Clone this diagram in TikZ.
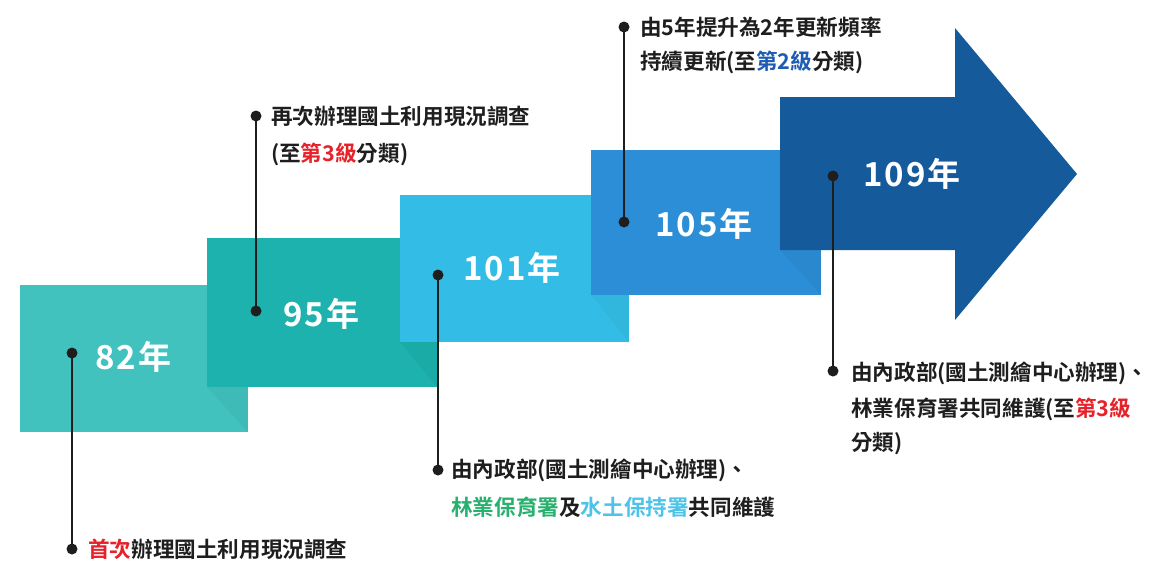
\documentclass[tikz,border=0pt]{standalone}
\usepackage{fontspec}
\setmainfont{Noto Sans CJK TC}[BoldFont=* Bold]
\definecolor{cA}{HTML}{41C2BE}
\definecolor{cB}{HTML}{1DB2AD}
\definecolor{cC}{HTML}{33BDE6}
\definecolor{cD}{HTML}{2C8ED6}
\definecolor{cE}{HTML}{155B9C}
\definecolor{tred}{HTML}{E62129}
\definecolor{tblue}{HTML}{1E5CB3}
\definecolor{tgreen}{HTML}{27B06E}
\definecolor{tsky}{HTML}{4DC3E8}
\definecolor{tink}{HTML}{1E1E1E}
\begin{document}
\begin{tikzpicture}[x=1pt,y=-1pt,
  yearlbl/.style={anchor=west,inner sep=0pt,text=white,font=\fontsize{33}{33}\selectfont\bfseries\addfontfeatures{LetterSpace=6}},
  callout/.style={anchor=west,inner sep=0pt,text=tink,font=\fontsize{21.6}{21.6}\selectfont\bfseries},
  dotc/.style={circle,fill=tink,inner sep=0pt,minimum size=11pt},
  lead/.style={draw=tink,line width=1.3pt},
  shade/.style={fill=black,opacity=0.035}]
\useasboundingbox (0,0) rectangle (1152,565);
\fill[white] (0,0) rectangle (1152,565);
% steps
\fill[cA] (20,285) rectangle (248,432);
\fill[shade] (207,387) -- (248,387) -- (248,432) -- cycle;
\fill[cB] (207,238) rectangle (437,387);
\fill[shade] (400,342) -- (437,342) -- (437,387) -- cycle;
\fill[cC] (400,195) rectangle (629,342);
\fill[shade] (591,295) -- (629,295) -- (629,342) -- cycle;
\fill[cD] (591,150) rectangle (821,295);
\fill[shade] (780,250) -- (821,250) -- (821,295) -- cycle;
\fill[cE] (780,97) -- (955,97) -- (955,28) -- (1077,174) -- (955,320) -- (955,250) -- (780,250) -- cycle;
% year labels
\node[yearlbl] (y82) at (95,357) {82年};
\node[yearlbl] (y95) at (283,314) {95年};
\node[yearlbl] (y101) at (463,268) {101年};
\node[yearlbl] (y105) at (655,224) {105年};
\node[yearlbl] (y109) at (863,174) {109年};
% dots
\node[dotc] (a1) at (72,353) {};
\node[dotc] (a2) at (72,549) {};
\node[dotc] (b1) at (256,311) {};
\node[dotc] (b2) at (256,116) {};
\node[dotc] (c1) at (438,275) {};
\node[dotc] (c2) at (438,470) {};
\node[dotc] (d1) at (624,222) {};
\node[dotc] (d2) at (624,27) {};
\node[dotc] (e1) at (833,176) {};
\node[dotc] (e2) at (833,371) {};
\draw[lead] (a1.center) -- (a2.center);
\draw[lead] (b1.center) -- (b2.center);
\draw[lead] (c1.center) -- (c2.center);
\draw[lead] (d1.center) -- (d2.center);
\draw[lead] (e1.center) -- (e2.center);
% callout texts
\node[callout] (ta) at (88,549) {\textcolor{tred}{首次}辦理國土利用現況調查};
\node[callout] (tb1) at (271,116) {再次辦理國土利用現況調查};
\node[callout] (tb2) at (271,154) {(至\textcolor{tred}{第3級}分類)};
\node[callout] (tc1) at (451,470) {由內政部(國土測繪中心辦理)、};
\node[callout] (tc2) at (451,507) {\textcolor{tgreen}{林業保育署}及\textcolor{tsky}{水土保持署}共同維護};
\node[callout] (td1) at (640,27) {由5年提升為2年更新頻率};
\node[callout] (td2) at (640,62) {持續更新(至\textcolor{tblue}{第2級}分類)};
\node[callout] (te1) at (851,373) {由內政部(國土測繪中心辦理)、};
\node[callout] (te2) at (851,409) {林業保育署共同維護(至\textcolor{tred}{第3級}};
\node[callout] (te3) at (851,444) {分類)};
\end{tikzpicture}
\end{document}
